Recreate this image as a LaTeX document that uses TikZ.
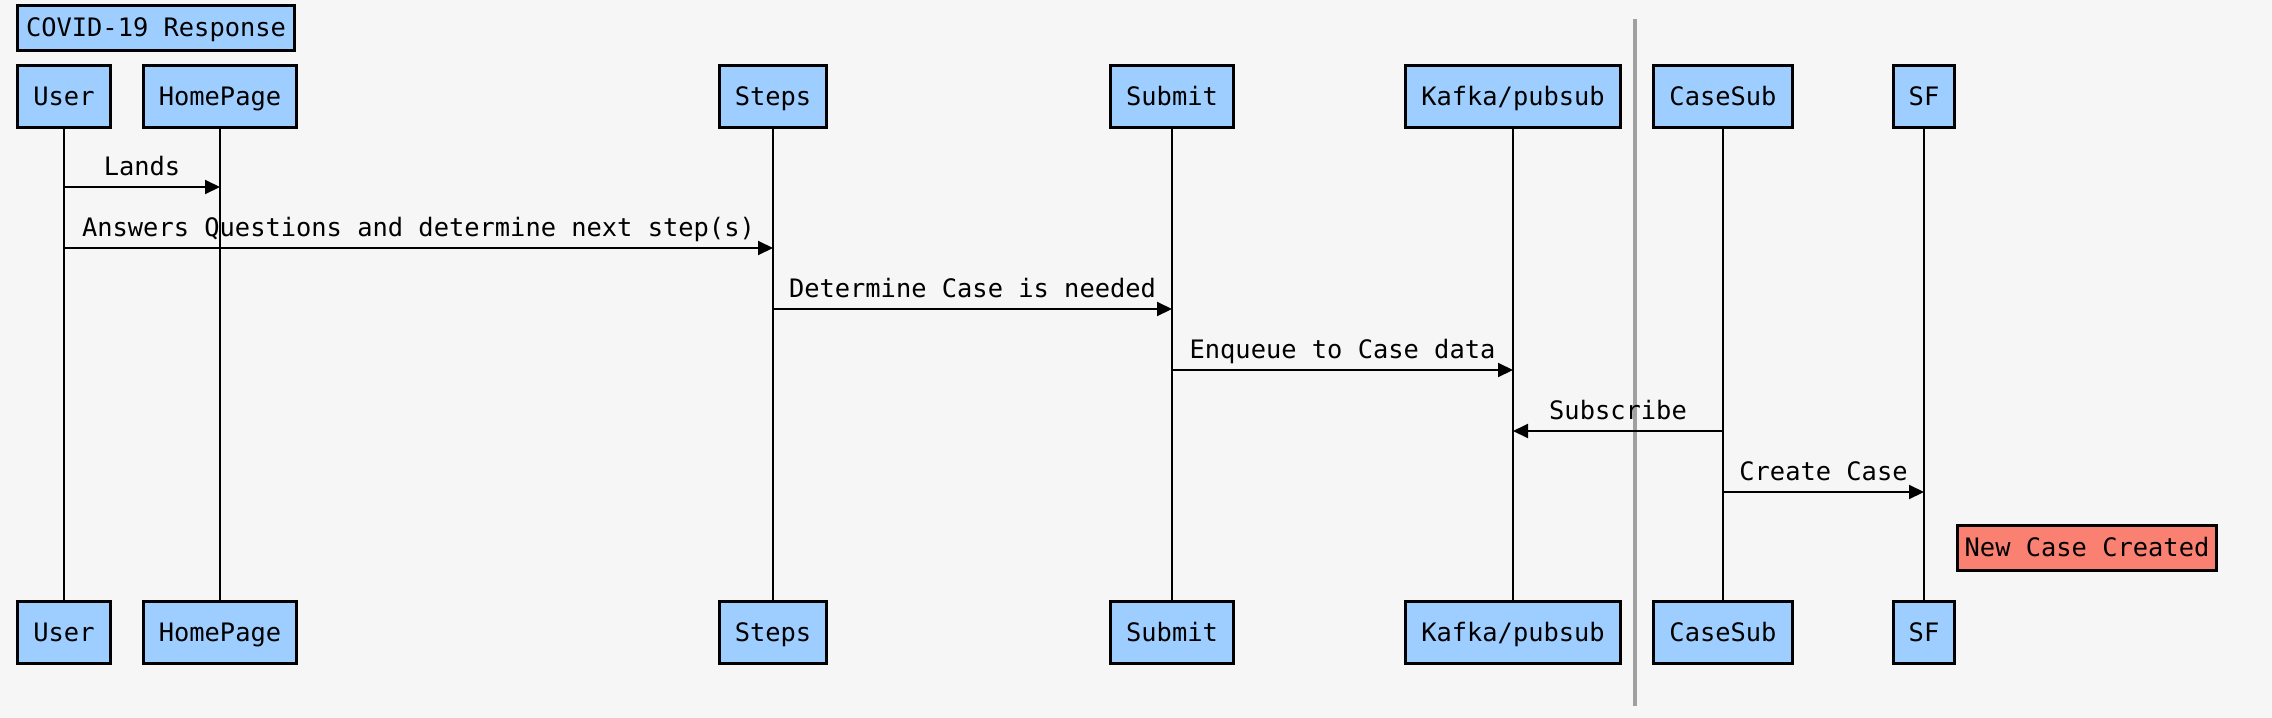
\documentclass[tikz,border=0pt]{standalone}
\usepackage{fontspec}
\setmonofont{DejaVu Sans Mono}
\usetikzlibrary{arrows.meta}

\definecolor{actorblue}{RGB}{158,206,255}
\definecolor{notesalmon}{RGB}{250,128,114}
\definecolor{pagegrey}{RGB}{246,246,246}
\definecolor{splitgrey}{RGB}{160,160,160}

\tikzset{
  actor/.style={draw=black, line width=1.5pt, fill=actorblue,
    font=\ttfamily\fontsize{12.7}{15}\selectfont,
    minimum height=31pt, inner xsep=7.8pt, inner ysep=0pt,
    text height=9.3pt, text depth=0pt},
  titlebox/.style={actor, minimum height=22.5pt, inner xsep=4.2pt},
  notebox/.style={actor, fill=notesalmon, minimum height=22.5pt, inner xsep=3.8pt},
  lifeline/.style={line width=1.2pt},
  msg/.style={line width=1pt, -{Triangle[length=7.5pt, width=7pt]}},
  msglabel/.style={midway, above, inner sep=0pt, yshift=5.5pt,
    font=\ttfamily\fontsize{12.7}{15}\selectfont,
    text height=9.3pt, text depth=0pt}
}

\begin{document}
\begin{tikzpicture}[x=0.5pt, y=-0.5pt]

  \fill[pagegrey] (0,0) rectangle (2272,718);
  \useasboundingbox (0,0) rectangle (2272,718);

  \node[titlebox] (title) at (156,27.5) {COVID-19 Response};

  % Participants, top row
  \node[actor] (user-top)  at (64,96)   {User};
  \node[actor] (home-top)  at (220,96)  {HomePage};
  \node[actor] (steps-top) at (773,96)  {Steps};
  \node[actor] (sub-top)   at (1172,96) {Submit};
  \node[actor] (kafka-top) at (1513,96) {Kafka/pubsub};
  \node[actor] (case-top)  at (1723,96) {CaseSub};
  \node[actor] (sf-top)    at (1924,96) {SF};

  % Participants, bottom row
  \node[actor] (user-bot)  at (64,632)   {User};
  \node[actor] (home-bot)  at (220,632)  {HomePage};
  \node[actor] (steps-bot) at (773,632)  {Steps};
  \node[actor] (sub-bot)   at (1172,632) {Submit};
  \node[actor] (kafka-bot) at (1513,632) {Kafka/pubsub};
  \node[actor] (case-bot)  at (1723,632) {CaseSub};
  \node[actor] (sf-bot)    at (1924,632) {SF};

  \draw[lifeline] (user-top)  -- (user-bot);
  \draw[lifeline] (home-top)  -- (home-bot);
  \draw[lifeline] (steps-top) -- (steps-bot);
  \draw[lifeline] (sub-top)   -- (sub-bot);
  \draw[lifeline] (kafka-top) -- (kafka-bot);
  \draw[lifeline] (case-top)  -- (case-bot);
  \draw[lifeline] (sf-top)    -- (sf-bot);

  % Divider
  \coordinate (split-a) at (1635,19);
  \coordinate (split-b) at (1635,706);
  \draw[splitgrey, line width=2.2pt] (split-a) -- (split-b);

  % Messages
  \coordinate (m1) at (0,187);
  \coordinate (m2) at (0,248);
  \coordinate (m3) at (0,309);
  \coordinate (m4) at (0,370);
  \coordinate (m5) at (0,431);
  \coordinate (m6) at (0,492);

  \draw[msg] (user-top |- m1) -- (home-top |- m1) node[msglabel] {Lands};
  \draw[msg] (user-top |- m2) -- (steps-top |- m2) node[msglabel] {Answers Questions and determine next step(s)};
  \draw[msg] (steps-top |- m3) -- (sub-top |- m3) node[msglabel] {Determine Case is needed};
  \draw[msg] (sub-top |- m4) -- (kafka-top |- m4) node[msglabel] {Enqueue to Case data};
  \draw[msg] (case-top |- m5) -- (kafka-top |- m5) node[msglabel] {Subscribe};
  \draw[msg] (case-top |- m6) -- (sf-top |- m6) node[msglabel] {Create Case};

  \node[notebox] (created) at (2087,547.5) {New Case Created};

\end{tikzpicture}
\end{document}
